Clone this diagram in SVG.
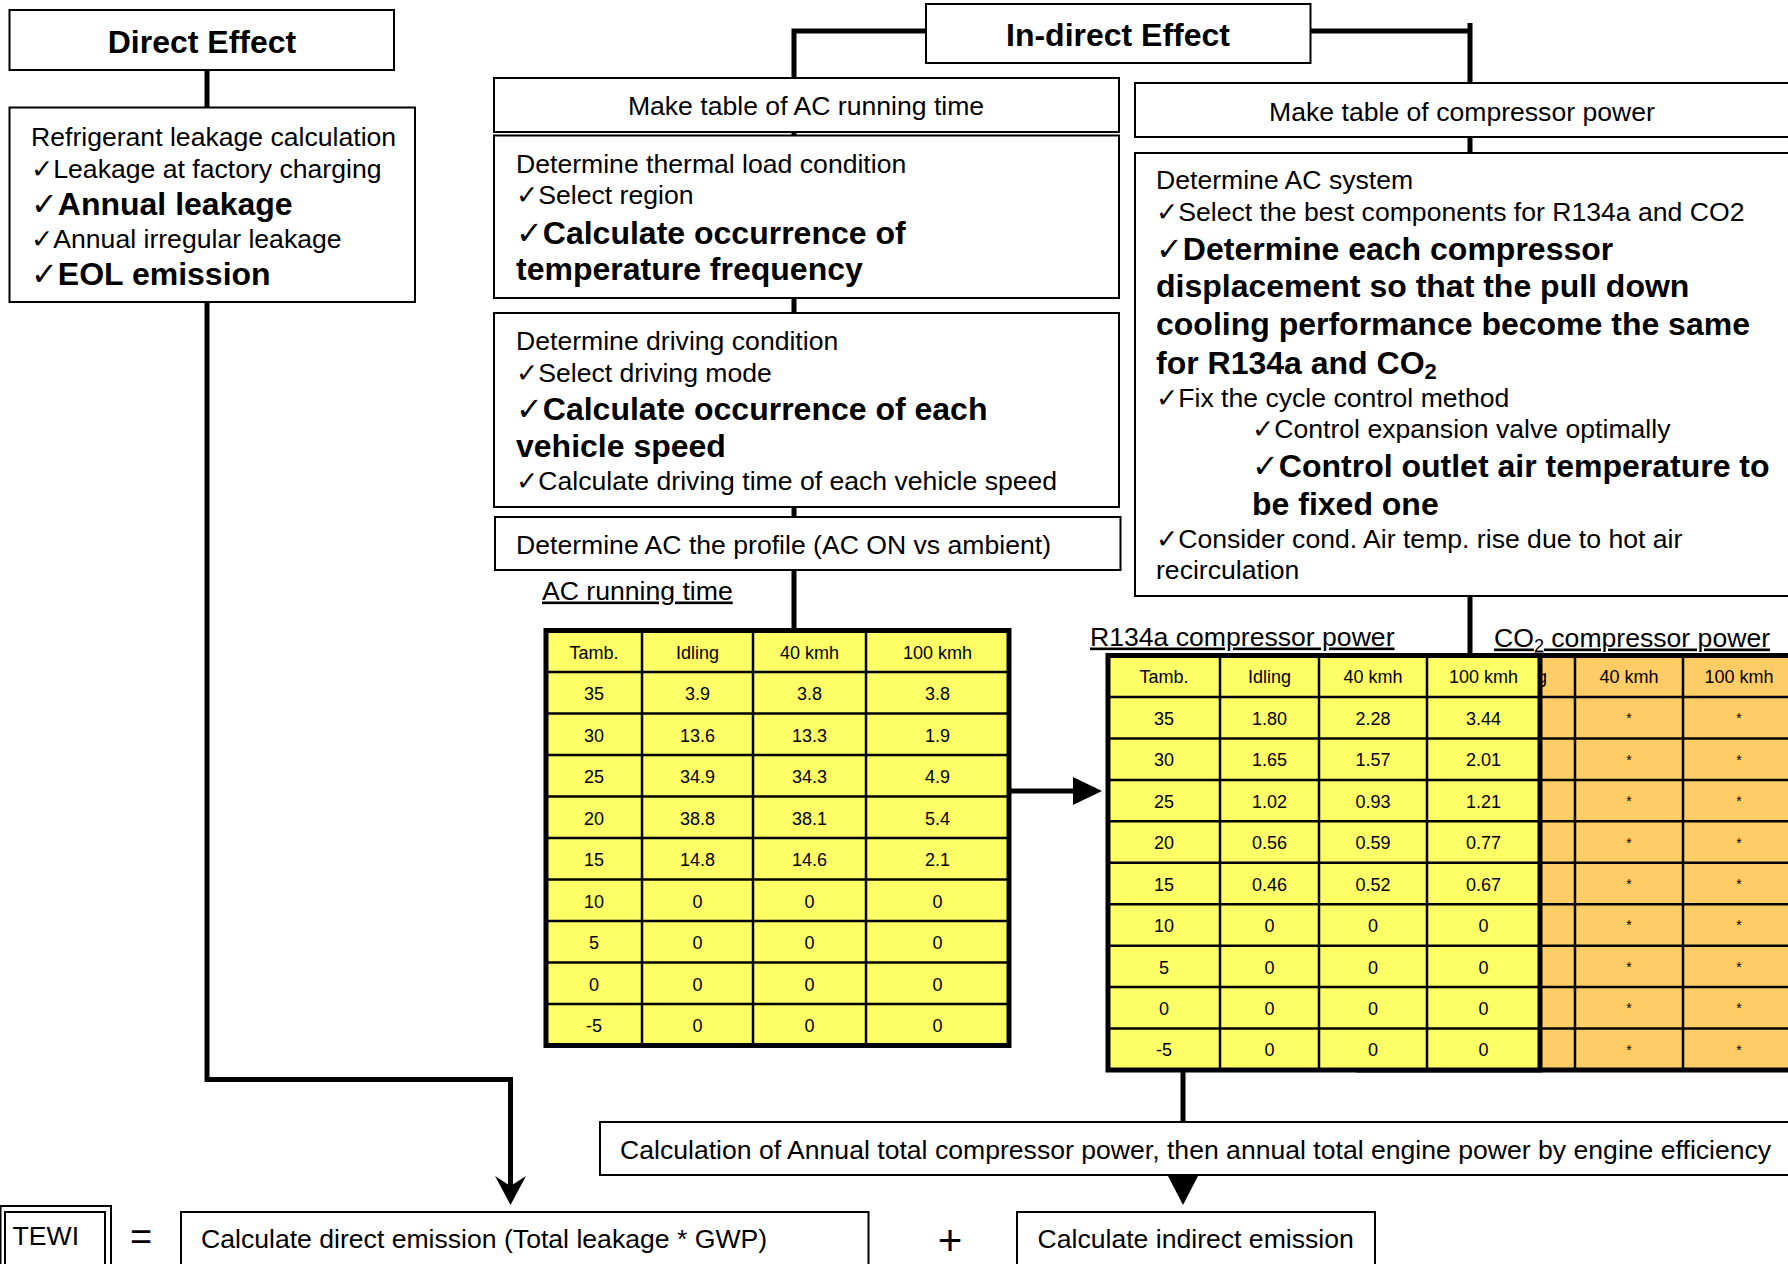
<svg xmlns="http://www.w3.org/2000/svg" width="1788" height="1264" viewBox="0 0 1788 1264">
<style>
text{font-family:"Liberation Sans","DejaVu Sans",Arial,sans-serif;fill:#000}
.t{font-size:26.6px}
.b{font-size:32px;font-weight:bold}
.c{font-size:26.6px;text-anchor:middle}
.hc{font-size:32px;font-weight:bold;text-anchor:middle}
.box{fill:#fff;stroke:#000;stroke-width:2}
.conn{fill:none;stroke:#000;stroke-width:5}
.thin{fill:none;stroke:#000;stroke-width:2}
.tv{font-size:18px;text-anchor:middle}
.ts{font-size:14px;text-anchor:middle}
.u{text-decoration:underline}
.ylw{fill:#FFFF66;stroke:#000;stroke-width:5}
.org{fill:#FFCC66;stroke:#000;stroke-width:5}
.grid{stroke:#000;stroke-width:2.5}
</style>
<rect width="1788" height="1264" fill="#fff"/>

<g id="connectors">
  <line class="conn" x1="207" y1="70" x2="207" y2="108"/>
  <path class="conn" d="M207,302 V1079.5 H510.5 V1187"/>
  <polygon points="495,1176 510.5,1186 526,1176 510.5,1205" fill="#000"/>
  <path class="conn" d="M926,31 H794 V78"/>
  <path class="conn" d="M1310,31 H1470"/>
  <line class="conn" x1="1470" y1="23" x2="1470" y2="84"/>
  <line class="conn" x1="794" y1="132" x2="794" y2="136"/>
  <line class="conn" x1="794" y1="298" x2="794" y2="313"/>
  <line class="conn" x1="794" y1="507" x2="794" y2="517"/>
  <line class="conn" x1="794" y1="570" x2="794" y2="630"/>
  <line class="conn" x1="1470" y1="137" x2="1470" y2="153"/>
  <line class="conn" x1="1470" y1="596" x2="1470" y2="655"/>
  <line class="conn" x1="1010" y1="791" x2="1076" y2="791"/>
  <polygon points="1073,777 1102,791 1073,805" fill="#000"/>
  <line class="conn" x1="1183" y1="1072" x2="1183" y2="1122"/>
  <polygon points="1168,1176 1198,1176 1183,1205" fill="#000"/>
</g>

<g id="direct-effect">
  <rect class="box" x="9.5" y="10" width="384.5" height="60"/>
  <text class="hc" x="202" y="53">Direct Effect</text>
</g>

<g id="refrigerant-leakage">
  <rect class="box" x="9.5" y="107.5" width="405.5" height="194.5"/>
  <text class="t" x="31" y="145.5">Refrigerant leakage calculation</text>
  <text class="t" x="31" y="177.5">✓Leakage at factory charging</text>
  <text class="b" x="31" y="214.5">✓Annual leakage</text>
  <text class="t" x="31" y="248">✓Annual irregular leakage</text>
  <text class="b" x="31" y="284.5">✓EOL emission</text>
</g>

<g id="indirect-effect">
  <rect class="box" x="926" y="4" width="384.5" height="59"/>
  <text class="hc" x="1118" y="46">In-direct Effect</text>
</g>

<g id="table-ac-running">
  <rect class="box" x="494" y="78" width="625" height="54"/>
  <text class="c" x="806" y="114.5">Make table of AC running time</text>
</g>

<g id="thermal-load">
  <rect class="box" x="494" y="135.5" width="625" height="162.5"/>
  <text class="t" x="516" y="173">Determine thermal load condition</text>
  <text class="t" x="516" y="204">✓Select region</text>
  <text class="b" x="516" y="243.5">✓Calculate occurrence of</text>
  <text class="b" x="516" y="280">temperature frequency</text>
</g>

<g id="driving-condition">
  <rect class="box" x="494" y="313" width="625" height="194"/>
  <text class="t" x="516" y="350">Determine driving condition</text>
  <text class="t" x="516" y="382">✓Select driving mode</text>
  <text class="b" x="516" y="419.5">✓Calculate occurrence of each</text>
  <text class="b" x="516" y="457">vehicle speed</text>
  <text class="t" x="516" y="490">✓Calculate driving time of each vehicle speed</text>
</g>

<g id="ac-profile">
  <rect class="box" x="495" y="517" width="625.5" height="53"/>
  <text class="t" x="516" y="554">Determine AC the profile (AC ON vs ambient)</text>
</g>

<g id="ac-running-time-table">
  <text class="t u" x="542" y="599.5">AC running time</text>
  <rect class="ylw" x="546" y="630.5" width="463" height="415"/>
  <g class="grid">
    <line x1="642" y1="630.5" x2="642" y2="1045.5"/>
    <line x1="753" y1="630.5" x2="753" y2="1045.5"/>
    <line x1="866" y1="630.5" x2="866" y2="1045.5"/>
    <line x1="546" y1="672" x2="1009" y2="672"/>
    <line x1="546" y1="713.5" x2="1009" y2="713.5"/>
    <line x1="546" y1="755" x2="1009" y2="755"/>
    <line x1="546" y1="796.5" x2="1009" y2="796.5"/>
    <line x1="546" y1="838" x2="1009" y2="838"/>
    <line x1="546" y1="879.5" x2="1009" y2="879.5"/>
    <line x1="546" y1="921" x2="1009" y2="921"/>
    <line x1="546" y1="962.5" x2="1009" y2="962.5"/>
    <line x1="546" y1="1004" x2="1009" y2="1004"/>
  </g>
  <g>
    <text class="tv" x="594" y="658.5">Tamb.</text><text class="tv" x="697.5" y="658.5">Idling</text><text class="tv" x="809.5" y="658.5">40 kmh</text><text class="tv" x="937.5" y="658.5">100 kmh</text>
    <text class="tv" x="594" y="700">35</text><text class="tv" x="697.5" y="700">3.9</text><text class="tv" x="809.5" y="700">3.8</text><text class="tv" x="937.5" y="700">3.8</text>
    <text class="tv" x="594" y="741.5">30</text><text class="tv" x="697.5" y="741.5">13.6</text><text class="tv" x="809.5" y="741.5">13.3</text><text class="tv" x="937.5" y="741.5">1.9</text>
    <text class="tv" x="594" y="783">25</text><text class="tv" x="697.5" y="783">34.9</text><text class="tv" x="809.5" y="783">34.3</text><text class="tv" x="937.5" y="783">4.9</text>
    <text class="tv" x="594" y="824.5">20</text><text class="tv" x="697.5" y="824.5">38.8</text><text class="tv" x="809.5" y="824.5">38.1</text><text class="tv" x="937.5" y="824.5">5.4</text>
    <text class="tv" x="594" y="866">15</text><text class="tv" x="697.5" y="866">14.8</text><text class="tv" x="809.5" y="866">14.6</text><text class="tv" x="937.5" y="866">2.1</text>
    <text class="tv" x="594" y="907.5">10</text><text class="tv" x="697.5" y="907.5">0</text><text class="tv" x="809.5" y="907.5">0</text><text class="tv" x="937.5" y="907.5">0</text>
    <text class="tv" x="594" y="949">5</text><text class="tv" x="697.5" y="949">0</text><text class="tv" x="809.5" y="949">0</text><text class="tv" x="937.5" y="949">0</text>
    <text class="tv" x="594" y="990.5">0</text><text class="tv" x="697.5" y="990.5">0</text><text class="tv" x="809.5" y="990.5">0</text><text class="tv" x="937.5" y="990.5">0</text>
    <text class="tv" x="594" y="1032">-5</text><text class="tv" x="697.5" y="1032">0</text><text class="tv" x="809.5" y="1032">0</text><text class="tv" x="937.5" y="1032">0</text>
  </g>
</g>

<g id="table-compressor-power">
  <rect class="box" x="1135" y="83" width="670" height="54"/>
  <text class="c" x="1462" y="121">Make table of compressor power</text>
</g>

<g id="ac-system">
  <rect class="box" x="1135" y="153" width="670" height="443"/>
  <text class="t" x="1156" y="189">Determine AC system</text>
  <text class="t" x="1156" y="221">✓Select the best components for R134a and CO2</text>
  <text class="b" x="1156" y="259.5">✓Determine each compressor</text>
  <text class="b" x="1156" y="297">displacement so that the pull down</text>
  <text class="b" x="1156" y="335">cooling performance become the same</text>
  <text class="b" x="1156" y="373.5">for R134a and CO<tspan font-size="22" dy="5">2</tspan></text>
  <text class="t" x="1156" y="407">✓Fix the cycle control method</text>
  <text class="t" x="1252" y="438">✓Control expansion valve optimally</text>
  <text class="b" x="1252" y="477">✓Control outlet air temperature to</text>
  <text class="b" x="1252" y="515">be fixed one</text>
  <text class="t" x="1156" y="548">✓Consider cond. Air temp. rise due to hot air</text>
  <text class="t" x="1156" y="579">recirculation</text>
</g>

<g id="co2-compressor-table">
  <text class="t u" x="1494" y="646.5">CO<tspan font-size="18" dy="5">2</tspan><tspan dy="-5"> compressor power</tspan></text>
  <rect class="org" x="1359" y="655.5" width="450" height="414.5"/>
  <g class="grid">
    <line x1="1467" y1="655.5" x2="1467" y2="1070"/>
    <line x1="1575" y1="655.5" x2="1575" y2="1070"/>
    <line x1="1683" y1="655.5" x2="1683" y2="1070"/>
    <line x1="1359" y1="697" x2="1809" y2="697"/>
    <line x1="1359" y1="738.4" x2="1809" y2="738.4"/>
    <line x1="1359" y1="779.9" x2="1809" y2="779.9"/>
    <line x1="1359" y1="821.3" x2="1809" y2="821.3"/>
    <line x1="1359" y1="862.8" x2="1809" y2="862.8"/>
    <line x1="1359" y1="904.2" x2="1809" y2="904.2"/>
    <line x1="1359" y1="945.7" x2="1809" y2="945.7"/>
    <line x1="1359" y1="987.1" x2="1809" y2="987.1"/>
    <line x1="1359" y1="1028.6" x2="1809" y2="1028.6"/>
  </g>
  <text class="tv" x="1525.5" y="683">Idling</text>
  <text class="tv" x="1629" y="683">40 kmh</text><text class="tv" x="1739" y="683">100 kmh</text>
  <text class="ts" x="1629" y="723">*</text><text class="ts" x="1739" y="723">*</text>
  <text class="ts" x="1629" y="764.5">*</text><text class="ts" x="1739" y="764.5">*</text>
  <text class="ts" x="1629" y="806">*</text><text class="ts" x="1739" y="806">*</text>
  <text class="ts" x="1629" y="847.5">*</text><text class="ts" x="1739" y="847.5">*</text>
  <text class="ts" x="1629" y="889">*</text><text class="ts" x="1739" y="889">*</text>
  <text class="ts" x="1629" y="930">*</text><text class="ts" x="1739" y="930">*</text>
  <text class="ts" x="1629" y="971.5">*</text><text class="ts" x="1739" y="971.5">*</text>
  <text class="ts" x="1629" y="1013">*</text><text class="ts" x="1739" y="1013">*</text>
  <text class="ts" x="1629" y="1054.5">*</text><text class="ts" x="1739" y="1054.5">*</text>
</g>

<g id="r134a-compressor-table">
  <text class="t u" x="1090" y="645.5">R134a compressor power</text>
  <rect class="ylw" x="1108" y="655.5" width="432" height="414.5"/>
  <g class="grid">
    <line x1="1220" y1="655.5" x2="1220" y2="1070"/>
    <line x1="1319" y1="655.5" x2="1319" y2="1070"/>
    <line x1="1427" y1="655.5" x2="1427" y2="1070"/>
    <line x1="1108" y1="697" x2="1540" y2="697"/>
    <line x1="1108" y1="738.4" x2="1540" y2="738.4"/>
    <line x1="1108" y1="779.9" x2="1540" y2="779.9"/>
    <line x1="1108" y1="821.3" x2="1540" y2="821.3"/>
    <line x1="1108" y1="862.8" x2="1540" y2="862.8"/>
    <line x1="1108" y1="904.2" x2="1540" y2="904.2"/>
    <line x1="1108" y1="945.7" x2="1540" y2="945.7"/>
    <line x1="1108" y1="987.1" x2="1540" y2="987.1"/>
    <line x1="1108" y1="1028.6" x2="1540" y2="1028.6"/>
  </g>
  <text class="tv" x="1164" y="683">Tamb.</text><text class="tv" x="1269.5" y="683">Idling</text><text class="tv" x="1373" y="683">40 kmh</text><text class="tv" x="1483.5" y="683">100 kmh</text>
  <text class="tv" x="1164" y="724.5">35</text><text class="tv" x="1269.5" y="724.5">1.80</text><text class="tv" x="1373" y="724.5">2.28</text><text class="tv" x="1483.5" y="724.5">3.44</text>
  <text class="tv" x="1164" y="766">30</text><text class="tv" x="1269.5" y="766">1.65</text><text class="tv" x="1373" y="766">1.57</text><text class="tv" x="1483.5" y="766">2.01</text>
  <text class="tv" x="1164" y="807.5">25</text><text class="tv" x="1269.5" y="807.5">1.02</text><text class="tv" x="1373" y="807.5">0.93</text><text class="tv" x="1483.5" y="807.5">1.21</text>
  <text class="tv" x="1164" y="849">20</text><text class="tv" x="1269.5" y="849">0.56</text><text class="tv" x="1373" y="849">0.59</text><text class="tv" x="1483.5" y="849">0.77</text>
  <text class="tv" x="1164" y="890.5">15</text><text class="tv" x="1269.5" y="890.5">0.46</text><text class="tv" x="1373" y="890.5">0.52</text><text class="tv" x="1483.5" y="890.5">0.67</text>
  <text class="tv" x="1164" y="932">10</text><text class="tv" x="1269.5" y="932">0</text><text class="tv" x="1373" y="932">0</text><text class="tv" x="1483.5" y="932">0</text>
  <text class="tv" x="1164" y="973.5">5</text><text class="tv" x="1269.5" y="973.5">0</text><text class="tv" x="1373" y="973.5">0</text><text class="tv" x="1483.5" y="973.5">0</text>
  <text class="tv" x="1164" y="1015">0</text><text class="tv" x="1269.5" y="1015">0</text><text class="tv" x="1373" y="1015">0</text><text class="tv" x="1483.5" y="1015">0</text>
  <text class="tv" x="1164" y="1056">-5</text><text class="tv" x="1269.5" y="1056">0</text><text class="tv" x="1373" y="1056">0</text><text class="tv" x="1483.5" y="1056">0</text>
</g>

<g id="annual-power">
  <rect class="box" x="600" y="1122" width="1205" height="53"/>
  <text class="t" x="620" y="1159">Calculation of Annual total compressor power, then annual total engine power by engine efficiency</text>
</g>

<g id="tewi">
  <rect class="thin" x="0.5" y="1206" width="110.5" height="70"/>
  <rect class="thin" x="5" y="1212" width="100" height="60"/>
  <text class="t" x="12.6" y="1245">TEWI</text>
</g>

<g id="equals">
  <text x="141" y="1250" font-size="38" text-anchor="middle">=</text>
</g>

<g id="direct-emission">
  <rect class="box" x="181" y="1212" width="687.5" height="70"/>
  <text class="t" x="201" y="1248">Calculate direct emission (Total leakage * GWP)</text>
</g>

<g id="plus">
  <text x="950" y="1255" font-size="42" text-anchor="middle">+</text>
</g>

<g id="indirect-emission">
  <rect class="box" x="1017" y="1212" width="358" height="70"/>
  <text class="t" x="1037.5" y="1248">Calculate indirect emission</text>
</g>
</svg>
